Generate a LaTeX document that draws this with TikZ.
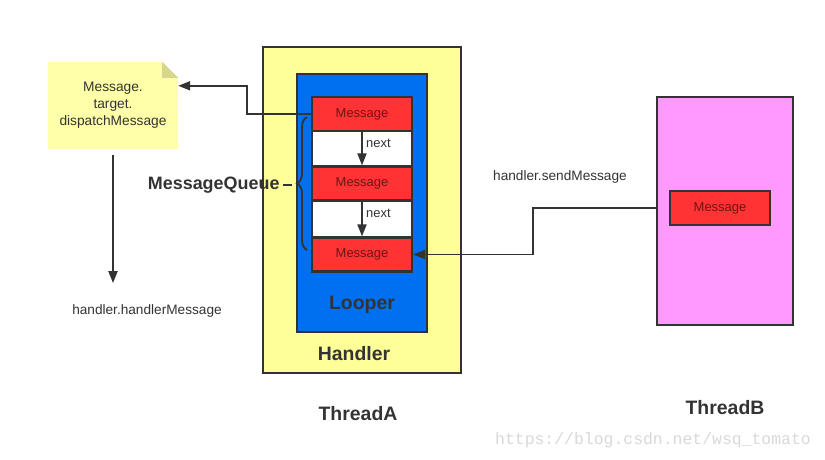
\documentclass[tikz,border=0pt]{standalone}
\usepackage{fontspec}
\setmainfont{Liberation Sans}
\setmonofont{Liberation Mono}
\usepackage{xcolor}
\usetikzlibrary{arrows.meta,decorations.pathreplacing}
\definecolor{edge}{RGB}{51,51,51}
\definecolor{notefill}{RGB}{255,255,170}
\definecolor{notefold}{RGB}{214,214,140}
\definecolor{handlerfill}{RGB}{255,255,153}
\definecolor{looperfill}{RGB}{0,112,240}
\definecolor{msgfill}{RGB}{255,51,51}
\definecolor{msgtext}{RGB}{110,20,20}
\definecolor{threadbfill}{RGB}{255,153,255}
\definecolor{mark}{RGB}{216,216,216}
\tikzset{
  every picture/.style={line join=miter, >=Stealth},
  box/.style={draw=edge, line width=2.2bp, inner sep=0pt},
  msg/.style={box, fill=msgfill, minimum width=100bp, minimum height=34bp,
    font=\fontsize{13}{15}\selectfont, text=msgtext},
  link/.style={draw=edge, line width=1.8bp, -{Triangle[length=12bp,width=9bp]}},
  tag/.style={font=\fontsize{13.7}{16}\selectfont, text=edge},
  title/.style={font=\bfseries\fontsize{19.5}{22}\selectfont, text=edge},
}

\begin{document}
\begin{tikzpicture}[x=1bp,y=-1bp]
\useasboundingbox (0,0) rectangle (825,460);
% threadA side
\node[box,fill=handlerfill,minimum width=198bp,minimum height=326bp](handler)at(362,210){};
\node[box,fill=looperfill,minimum width=130bp,minimum height=258bp](looper)at(362,203){};
\node[box,fill=white,minimum width=100bp,minimum height=175bp](queue)at(362,184.5){};
\node[msg](m1)at(362,114){Message};
\node[msg](m2)at(362,183.5){Message};
\node[msg](m3)at(362,254.5){Message};
\draw[link](m1.south)--(m2.north)node[pos=0.35,right=0bp,tag,font=\fontsize{13}{15}\selectfont]{next};
\draw[link](m2.south)--(m3.north)node[pos=0.35,right=0bp,tag,font=\fontsize{13}{15}\selectfont]{next};
\node[title](looperlbl)at(362,305){Looper};
\node[title](handlerlbl)at(354,354){Handler};
\node[title](threadA)at(358,414){ThreadA};
% message queue brace
\draw[edge,line width=1.8bp,decorate,decoration={brace,amplitude=10bp}]
  (307,250)--(307,117);
\node[title,font=\bfseries\fontsize{18}{21}\selectfont,anchor=east](mq)at(283,185){MessageQueue};
\draw[edge,line width=1.8bp](mq.east)--++(9,0);
% note
\node[minimum width=130bp,minimum height=87bp](note)at(113,105.5){};
\fill[notefill](note.north west)--++(114,0)--++(16,16)--(note.south east)--(note.south west)--cycle;
\fill[notefold]([xshift=-16bp]note.north east)--++(0,16)--++(16,0)--cycle;
\node[align=center,tag,font=\fontsize{13.8}{17}\selectfont](notetext)at(note){Message.\\target.\\dispatchMessage};
\draw[link](m1.west)--++(-64,0)|-([yshift=-24bp]note.north east);
\node[tag](hm)at(147,311){handler.handlerMessage};
\draw[link,shorten <=6bp,shorten >=18bp](note.south)--(note.south|-hm.north);
% threadB side
\node[box,fill=threadbfill,minimum width=136bp,minimum height=228bp](threadB)at(725,211){};
\node[msg](mb)at(720,208){Message};
\node[title](threadBlbl)at(725,408){ThreadB};
\node[tag](send)at(560,177){handler.sendMessage};
\draw[link](threadB.west|-mb.west)--++(-123,0)|-(m3.east);
% watermark
\node[font=\ttfamily\fontsize{16.5}{18}\selectfont,text=mark](wm)at(653,440){https://blog.csdn.net/wsq\_tomato};
\end{tikzpicture}
\end{document}
